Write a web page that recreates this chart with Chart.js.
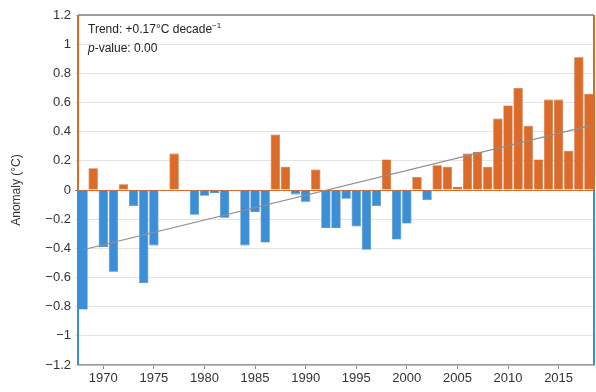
<!DOCTYPE html>
<html>
<head>
<meta charset="utf-8">
<script src="https://cdn.jsdelivr.net/npm/chart.js@4"></script>
<style>
  html, body { margin: 0; padding: 0; background: #fff; }
  #wrap { position: relative; width: 596px; height: 392px; }
  .note { position: absolute; left: 88px; font: 12px "Liberation Sans", Arial, sans-serif; color: #222; }
</style>
</head>
<body>
<div id="wrap">
  <canvas id="chart" width="596" height="392"></canvas>
  <div class="note" style="top:21px;">Trend: +0.17°C decade<sup style="font-size:8px;">−1</sup></div>
  <div class="note" style="top:41px;"><i>p</i>-value: 0.00</div>
</div>
<script>
// Annual anomalies (°C), 1968–2018
const years = [];
for (let y = 1968; y <= 2018; y++) years.push(String(y));

const anomalies = [
    -0.82, 0.15, -0.39, -0.56, 0.04, -0.11, -0.64, -0.38, 0, 0.25,
    0, -0.17, -0.04, -0.02, -0.19, 0, -0.38, -0.15, -0.36, 0.38,
    0.16, -0.03, -0.08, 0.14, -0.26, -0.26, -0.06, -0.25, -0.41, -0.11,
    0.21, -0.34, -0.23, 0.09, -0.07, 0.17, 0.16, 0.02, 0.25, 0.26,
    0.16, 0.49, 0.58, 0.70, 0.44, 0.21, 0.62, 0.62, 0.27, 0.91,
    0.66
];

// trend line end points (1968, 2018)
const trendStart = -0.41;
const trendEnd = 0.44;
const trend = years.map((y, i) => i === 0 ? trendStart : (i === years.length - 1 ? trendEnd : null));

const ORANGE = '#dc6a28';
const BLUE = '#3c8fd6';

// colour the left/right axis lines orange above zero, blue below; grey top border
const axisSides = {
    id: 'axisSides',
    afterDraw(chart) {
        const { ctx, chartArea: a, scales: { y } } = chart;
        const y0 = y.getPixelForValue(0);
        ctx.save();
        ctx.lineWidth = 2;
        ctx.strokeStyle = '#9c9c9c';
        ctx.beginPath(); ctx.moveTo(a.left, a.top); ctx.lineTo(a.right, a.top); ctx.stroke();
        [a.left, a.right].forEach(x => {
            ctx.strokeStyle = ORANGE;
            ctx.beginPath(); ctx.moveTo(x, a.top); ctx.lineTo(x, y0); ctx.stroke();
            ctx.strokeStyle = BLUE;
            ctx.beginPath(); ctx.moveTo(x, y0); ctx.lineTo(x, a.bottom); ctx.stroke();
        });
        ctx.restore();
    }
};

new Chart(document.getElementById('chart'), {
    data: {
        labels: years,
        datasets: [{
            type: 'line',
            data: trend,
            spanGaps: true,
            borderColor: '#8f8f8f',
            borderWidth: 1.2,
            pointRadius: 0,
            order: 0
        }, {
            type: 'bar',
            data: anomalies,
            backgroundColor: c => c.raw >= 0 ? ORANGE : BLUE,
            borderColor: c => c.raw >= 0 ? '#b95a2a' : '#3478b4',
            borderWidth: 0.6,
            barPercentage: 0.92,
            categoryPercentage: 1,
            order: 1
        }]
    },
    options: {
        responsive: false,
        animation: false,
        layout: { padding: { top: 15, right: 2, left: 0, bottom: 0 } },
        plugins: { legend: { display: false }, tooltip: { enabled: false } },
        scales: {
            x: {
                offset: true,
                grid: {
                    offset: false,
                    drawOnChartArea: false,
                    tickLength: 4,
                    color: c => (Number(years[c.index]) % 5 === 0) ? '#888' : 'rgba(0,0,0,0)'
                },
                border: { color: '#999', width: 1.5 },
                ticks: {
                    autoSkip: false,
                    maxRotation: 0,
                    padding: 2,
                    color: '#333',
                    font: { family: 'Liberation Sans', size: 13 },
                    callback: (v, i) => Number(years[i]) % 5 === 0 ? years[i] : ''
                },
                afterFit: s => { s.height = 27; }
            },
            y: {
                min: -1.2,
                max: 1.2,
                ticks: {
                    stepSize: 0.2,
                    padding: 4,
                    color: '#333',
                    font: { family: 'Liberation Sans', size: 13 },
                    callback: v => {
                        const r = Math.round(v * 10) / 10;
                        if (r === 0) return '0';
                        return (r < 0 ? '−' : '') + String(Math.abs(r));
                    }
                },
                grid: {
                    tickLength: 3,
                    color: c => {
                        const v = Math.round(c.tick.value * 10) / 10;
                        if (v === 0) return ORANGE;
                        return '#e4e4e4';
                    }
                },
                border: { display: false },
                title: {
                    display: true,
                    text: 'Anomaly (°C)',
                    color: '#333',
                    padding: { top: 9, bottom: 2 },
                    font: { family: 'Liberation Sans', size: 12 }
                },
                afterFit: s => { s.width = 78; }
            }
        }
    },
    plugins: [axisSides]
});
</script>
</body>
</html>
